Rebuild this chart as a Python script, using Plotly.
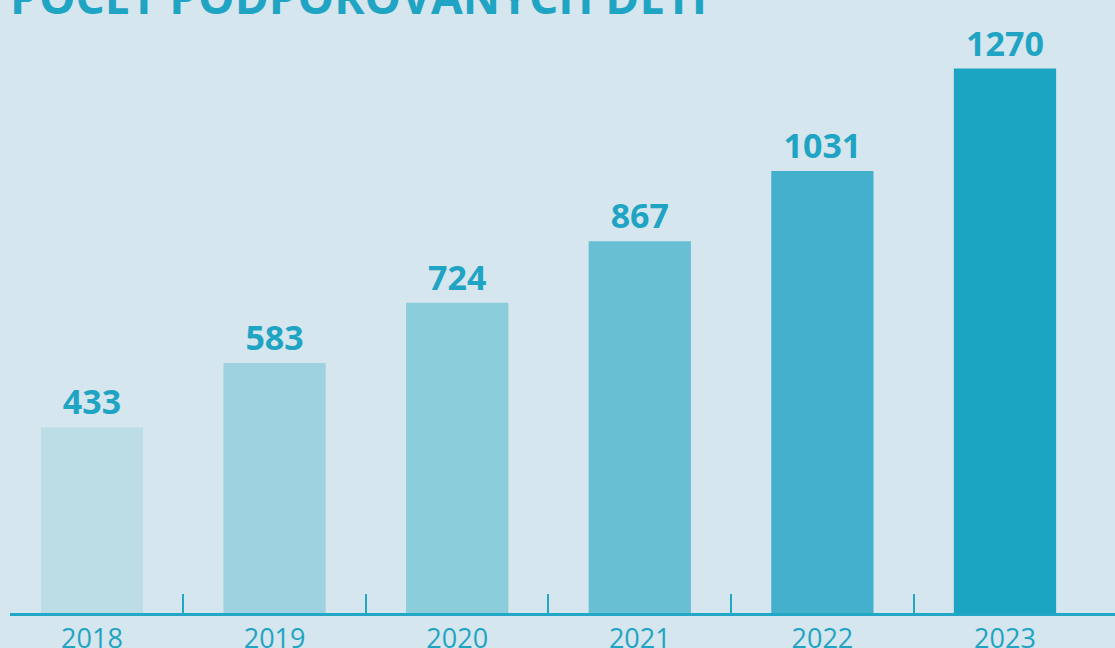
import plotly.graph_objects as go

years = [2018, 2019, 2020, 2021, 2022, 2023]
values = [433, 583, 724, 867, 1031, 1270]
bar_colors = ["#bcdce6", "#9fd2e0", "#8ccddc", "#68bfd4", "#44b0cb", "#1ba5c2"]
title_text = "POČET PODPOROVANÝCH DĚTÍ"

accent = "#1fa4c3"
bg = "#d5e6ee"

fig = go.Figure()
fig.add_trace(go.Bar(
    x=years, y=values,
    marker=dict(color=bar_colors, line=dict(width=0)),
    text=[str(v) for v in values],
    textposition="outside",
    textfont=dict(family="Open Sans", size=34, color=accent, weight="bold"),
    cliponaxis=False,
    hoverinfo="skip",
))

fig.update_layout(
    width=1115, height=648,
    margin=dict(l=10, r=0, t=0, b=35),
    paper_bgcolor=bg, plot_bgcolor=bg,
    bargap=0.44,
    showlegend=False,
    xaxis=dict(
        range=[2017.551, 2023.6025],
        automargin=False,
        tickmode="array", tickvals=years, ticktext=[str(y) for y in years],
        ticks="", showgrid=False, zeroline=False,
        showline=True, linecolor="#22a8c6", linewidth=3,
        ticklabelstandoff=0,
        tickfont=dict(family="Open Sans", size=27, color=accent),
        minor=dict(tickmode="array", tickvals=[y + 0.5 for y in years[:-1]],
                   ticks="inside", ticklen=19, tickwidth=1.5, tickcolor="#22a8c6",
                   showgrid=False),
    ),
    yaxis=dict(range=[0, 1430], visible=False, showgrid=False, zeroline=False,
               automargin=False),
    annotations=[dict(
        text=title_text, xref="paper", yref="paper",
        x=-0.002, y=0.952, xanchor="left", yanchor="bottom", showarrow=False,
        font=dict(family="Open Sans", size=46, color=accent, weight="bold"),
    )],
)

fig.write_html("out.html", config={"displayModeBar": False},
               post_script="document.body.style.margin='0';document.body.style.padding='0';document.body.style.overflow='hidden';")
